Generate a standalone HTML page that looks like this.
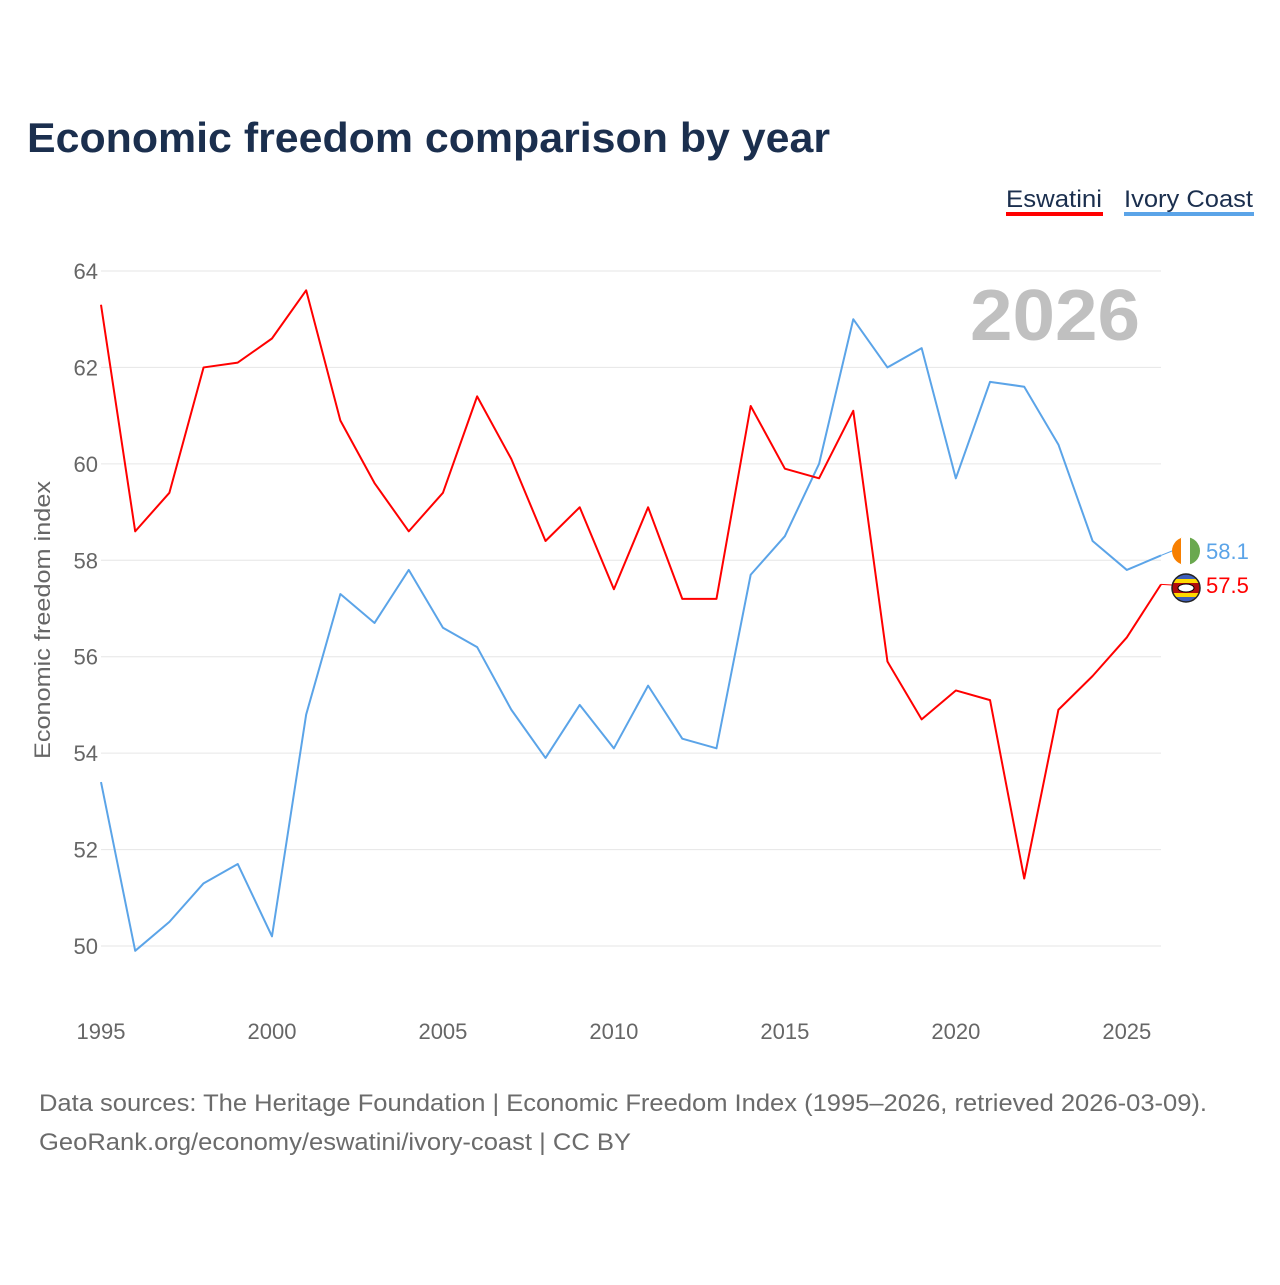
<!DOCTYPE html>
<html><head><meta charset="utf-8"><style>
body{margin:0;background:#fff;font-family:"Liberation Sans",sans-serif;}
#wrap{position:relative;width:1280px;height:1280px;}
</style></head><body>
<div id="wrap">
<svg id="chart" width="1280" height="1280"></svg>
</div>
<script>
const years=[1995,1996,1997,1998,1999,2000,2001,2002,2003,2004,2005,2006,2007,2008,2009,2010,2011,2012,2013,2014,2015,2016,2017,2018,2019,2020,2021,2022,2023,2024,2025,2026];
const eswatini=[63.3,58.6,59.4,62.0,62.1,62.6,63.6,60.9,59.6,58.6,59.4,61.4,60.1,58.4,59.1,57.4,59.1,57.2,57.2,61.2,59.9,59.7,61.1,55.9,54.7,55.3,55.1,51.4,54.9,55.6,56.4,57.5];
const ivoryCoast=[53.4,49.9,50.5,51.3,51.7,50.2,54.8,57.3,56.7,57.8,56.6,56.2,54.9,53.9,55.0,54.1,55.4,54.3,54.1,57.7,58.5,60.0,63.0,62.0,62.4,59.7,61.7,61.6,60.4,58.4,57.8,58.1];
const yTicks=[50,52,54,56,58,60,62,64];
const xTicks=[1995,2000,2005,2010,2015,2020,2025];

const NS="http://www.w3.org/2000/svg";
const svg=document.getElementById('chart');
const X=y=>101+(y-1995)*(1161-101)/31;
const Y=v=>946-(v-50)*(946-271)/14;
function mk(tag,attrs,txt){const e=document.createElementNS(NS,tag);for(const k in attrs)e.setAttribute(k,attrs[k]);if(txt!=null)e.textContent=txt;svg.appendChild(e);return e;}

let t=mk('text',{x:27,y:152,'font-size':42,'font-weight':'bold',fill:'#1b2f4e',textLength:803,lengthAdjust:'spacingAndGlyphs'},'Economic freedom comparison by year');



// legend
t=mk('text',{x:1006,y:207,'font-size':24,fill:'#1b2f4e',textLength:96,lengthAdjust:'spacingAndGlyphs'},'Eswatini');


mk('rect',{x:1006,y:212,width:97,height:4,fill:'#ff0000'});
t=mk('text',{x:1124,y:207,'font-size':24,fill:'#1b2f4e',textLength:129,lengthAdjust:'spacingAndGlyphs'},'Ivory Coast');


mk('rect',{x:1124,y:212,width:130,height:4,fill:'#5ba4e8'});

t=mk('text',{x:1140,y:340,'font-size':72,'font-weight':'bold',fill:'#c0c0c0','text-anchor':'end',textLength:170,lengthAdjust:'spacingAndGlyphs'},'2026');



yTicks.forEach(v=>{
  const g=mk('line',{x1:101,x2:1161,y1:Y(v),y2:Y(v),stroke:'#e6e6e6','stroke-width':1});
  
  
  const l=mk('text',{x:98,y:Y(v)+8,'font-size':22,fill:'#666','text-anchor':'end'},v);
  
  
});
xTicks.forEach(y=>{
  const l=mk('text',{x:X(y),y:1039,'font-size':22,fill:'#666','text-anchor':'middle'},y);
  
  
});
t=mk('text',{x:0,y:0,'font-size':22,fill:'#666','text-anchor':'middle',transform:'translate(50,620) rotate(-90)',textLength:278,lengthAdjust:'spacingAndGlyphs'},'Economic freedom index');



function series(vals,color,name){
  const p=mk('polyline',{points:vals.map((v,i)=>X(years[i])+','+Y(v)).join(' '),fill:'none',stroke:color,'stroke-width':2,'stroke-linejoin':'round'});
  
  
}
series(ivoryCoast,'#5ba4e8','ivory-coast');
series(eswatini,'#ff0000','eswatini');

const lastI=years.length-1;
function endLabel(v,color,name,ly,flag){
  mk('line',{x1:X(years[lastI]),y1:Y(v),x2:1172,y2:ly,stroke:color,'stroke-width':1});
  const g=document.createElementNS(NS,'g');svg.appendChild(g);
  
  
  g.innerHTML=flag;
  const l=mk('text',{x:1206,y:ly+8,'font-size':22,fill:color},v.toFixed(1));
  
  
}
endLabel(ivoryCoast[lastI],'#5ba4e8','ivory-coast',551,
 '<clipPath id="c1"><circle cx="1186" cy="551" r="14"/></clipPath><g clip-path="url(#c1)"><rect x="1172" y="537" width="10" height="28" fill="#f77f00"/><rect x="1181" y="537" width="10" height="28" fill="#fff"/><rect x="1190" y="537" width="10" height="28" fill="#6aa84f"/></g>');
endLabel(eswatini[lastI],'#ff0000','eswatini',585,
 '<clipPath id="c2"><circle cx="1186" cy="588" r="14"/></clipPath><g clip-path="url(#c2)"><rect x="1172" y="574" width="28" height="28" fill="#3e5eb9"/><rect x="1172" y="579" width="28" height="4" fill="#ffd900"/><rect x="1172" y="583" width="28" height="10" fill="#b10c0c"/><rect x="1172" y="593" width="28" height="4" fill="#ffd900"/><ellipse cx="1186" cy="588" rx="8" ry="4" fill="#fff" stroke="#000"/></g><circle cx="1186" cy="588" r="14" fill="none" stroke="#222" stroke-width="1.5"/>');

t=mk('text',{x:39,y:1111,'font-size':24,fill:'#6b6b6b',textLength:1168,lengthAdjust:'spacingAndGlyphs'},'Data sources: The Heritage Foundation | Economic Freedom Index (1995–2026, retrieved 2026-03-09).');


t=mk('text',{x:39,y:1150,'font-size':24,fill:'#6b6b6b',textLength:592,lengthAdjust:'spacingAndGlyphs'},'GeoRank.org/economy/eswatini/ivory-coast | CC BY');


</script>
</body></html>
